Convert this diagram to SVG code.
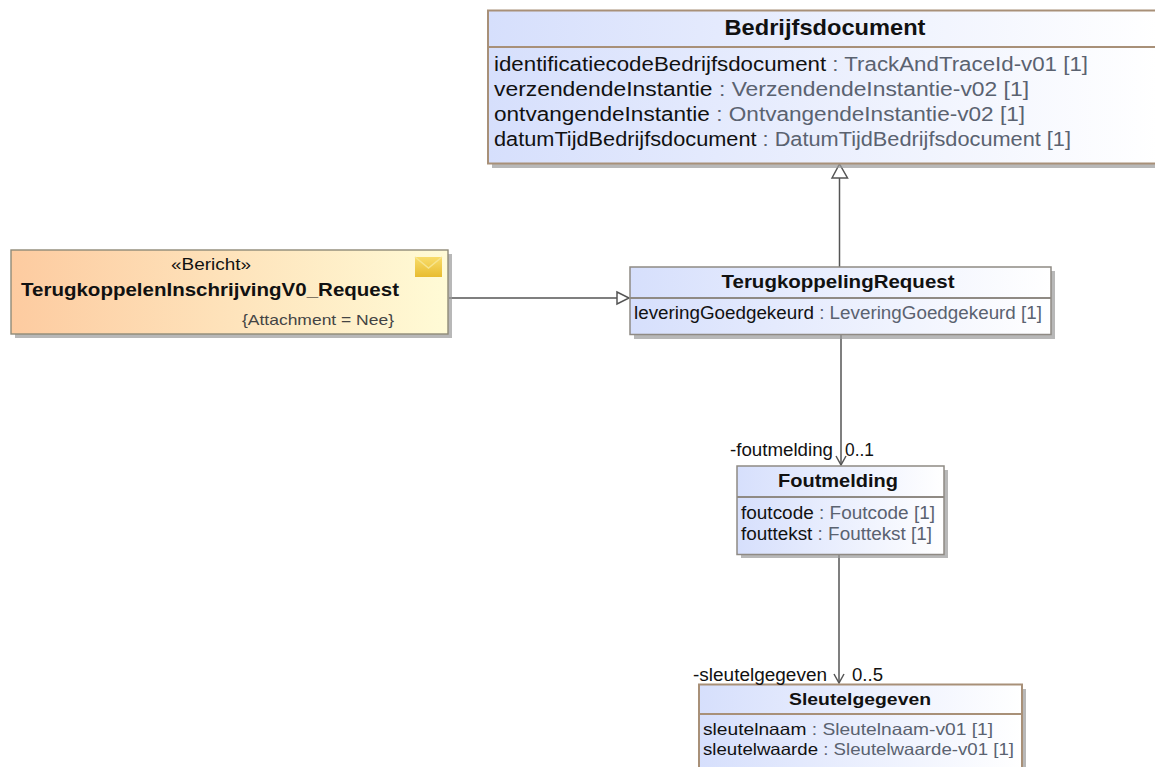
<svg xmlns="http://www.w3.org/2000/svg" width="1155" height="767" viewBox="0 0 1155 767">
<style>
text{font-family:"Liberation Sans",Arial,sans-serif;fill:#111}
.t{font-weight:bold;text-anchor:middle}
.b{fill:url(#blue);stroke:#a89078;stroke-width:2}
.g{fill:url(#blue);stroke:#8f8a84;stroke-width:1.5}
.s{fill:#9a9a9a;opacity:.7}
.d{fill:none;stroke-width:1.8}
.c{fill:none;stroke:#555;stroke-width:1.5}
.ty{fill:#5a6270}
</style>
<defs>
<linearGradient id="blue" x1="0" y1="0.5" x2="1" y2="0.5"><stop offset="0" stop-color="#d6dffc"/><stop offset="1" stop-color="#ffffff"/></linearGradient>
<linearGradient id="org" x1="0" y1="0.5" x2="1" y2="0.5"><stop offset="0" stop-color="#fdcba0"/><stop offset="1" stop-color="#fffbd6"/></linearGradient>
<linearGradient id="env" x1="0" y1="0" x2="0" y2="1"><stop offset="0" stop-color="#f8dc6a"/><stop offset="1" stop-color="#e8bc30"/></linearGradient>
</defs>
<g id="connectors">
<path class="c" d="M839.500 178V267"/>
<path class="c" d="M832 178L839.500 164L847.500 178Z" style="fill:#fff"/>
<path class="c" d="M449 298H617"/>
<path class="c" d="M617 292L629 298L617 304Z" style="fill:#fff"/>
<path class="c" d="M841 335V465"/>
<path class="c" d="M836 456L841 465L846 456"/>
<path class="c" d="M839 555V683"/>
<path class="c" d="M834 674L839 683L844 674"/>
</g>
<g id="bedrijfsdocument">
<rect class="s" x="492" y="15" width="663" height="153"/>
<rect class="b" x="488" y="10.500" width="670" height="153"/>
<path class="d" stroke="#a89078" d="M488 47H1155"/>
<text class="t" x="825" y="35" font-size="22" textLength="201" lengthAdjust="spacingAndGlyphs">Bedrijfsdocument</text>
<text x="494" y="71" font-size="20" textLength="594" lengthAdjust="spacingAndGlyphs">identificatiecodeBedrijfsdocument<tspan class="ty"> : TrackAndTraceId-v01 [1]</tspan></text>
<text x="494" y="96" font-size="20" textLength="535" lengthAdjust="spacingAndGlyphs">verzendendeInstantie<tspan class="ty"> : VerzendendeInstantie-v02 [1]</tspan></text>
<text x="494" y="121" font-size="20" textLength="531" lengthAdjust="spacingAndGlyphs">ontvangendeInstantie<tspan class="ty"> : OntvangendeInstantie-v02 [1]</tspan></text>
<text x="494" y="146" font-size="20" textLength="577" lengthAdjust="spacingAndGlyphs">datumTijdBedrijfsdocument<tspan class="ty"> : DatumTijdBedrijfsdocument [1]</tspan></text>
</g>
<g id="terugkoppelen-inschrijving">
<rect class="s" x="15" y="254" width="437" height="84"/>
<rect x="11" y="250" width="437" height="84" fill="url(#org)" stroke="#8f8a78" stroke-width="1.4"/>
<text x="211" y="270" font-size="17" text-anchor="middle" textLength="80" lengthAdjust="spacingAndGlyphs">«Bericht»</text>
<text class="t" x="210" y="296" font-size="18" textLength="378" lengthAdjust="spacingAndGlyphs">TerugkoppelenInschrijvingV0_Request</text>
<text x="394" y="325" font-size="15" text-anchor="end" textLength="152" lengthAdjust="spacingAndGlyphs" style="fill:#444">{Attachment = Nee}</text>
<rect x="415" y="257" width="27" height="20" fill="url(#env)"/>
<path d="M415 257L428.500 268L442 257" fill="none" stroke="#f6e48e" stroke-width="1.5"/>
</g>
<g id="terugkoppeling-request">
<rect class="s" x="634" y="271" width="421" height="68"/>
<rect class="g" x="630" y="267" width="421" height="67.500"/>
<path class="d" stroke="#8f8a84" d="M630 298H1051"/>
<text class="t" x="838" y="288" font-size="18" textLength="233" lengthAdjust="spacingAndGlyphs">TerugkoppelingRequest</text>
<text x="634" y="319" font-size="18" textLength="408" lengthAdjust="spacingAndGlyphs">leveringGoedgekeurd<tspan class="ty"> : LeveringGoedgekeurd [1]</tspan></text>
</g>
<g id="foutmelding">
<rect class="s" x="741" y="470" width="207" height="88"/>
<rect class="g" x="737" y="466" width="207" height="88.500"/>
<path class="d" stroke="#8f8a84" d="M737 497H944"/>
<text class="t" x="838" y="487" font-size="18" textLength="120" lengthAdjust="spacingAndGlyphs">Foutmelding</text>
<text x="741" y="519" font-size="18" textLength="194" lengthAdjust="spacingAndGlyphs">foutcode<tspan class="ty"> : Foutcode [1]</tspan></text>
<text x="741" y="540" font-size="18" textLength="191" lengthAdjust="spacingAndGlyphs">fouttekst<tspan class="ty"> : Fouttekst [1]</tspan></text>
</g>
<g id="sleutelgegeven">
<rect class="s" x="703" y="689" width="323" height="82"/>
<rect class="b" x="699" y="684.500" width="323" height="90"/>
<path class="d" stroke="#a89078" d="M699 714H1022"/>
<text class="t" x="860" y="705" font-size="17" textLength="142" lengthAdjust="spacingAndGlyphs">Sleutelgegeven</text>
<text x="703" y="735" font-size="16.500" textLength="290" lengthAdjust="spacingAndGlyphs">sleutelnaam<tspan class="ty"> : Sleutelnaam-v01 [1]</tspan></text>
<text x="703" y="755" font-size="16.500" textLength="311" lengthAdjust="spacingAndGlyphs">sleutelwaarde<tspan class="ty"> : Sleutelwaarde-v01 [1]</tspan></text>
</g>
<g id="connector-labels">
<text x="730" y="456" font-size="17.500" textLength="103" lengthAdjust="spacingAndGlyphs">-foutmelding</text>
<text x="845" y="456" font-size="17.500" textLength="29" lengthAdjust="spacingAndGlyphs">0..1</text>
<text x="693" y="681" font-size="17.500" textLength="134" lengthAdjust="spacingAndGlyphs">-sleutelgegeven</text>
<text x="852" y="681" font-size="17.500" textLength="31" lengthAdjust="spacingAndGlyphs">0..5</text>
</g>
</svg>
